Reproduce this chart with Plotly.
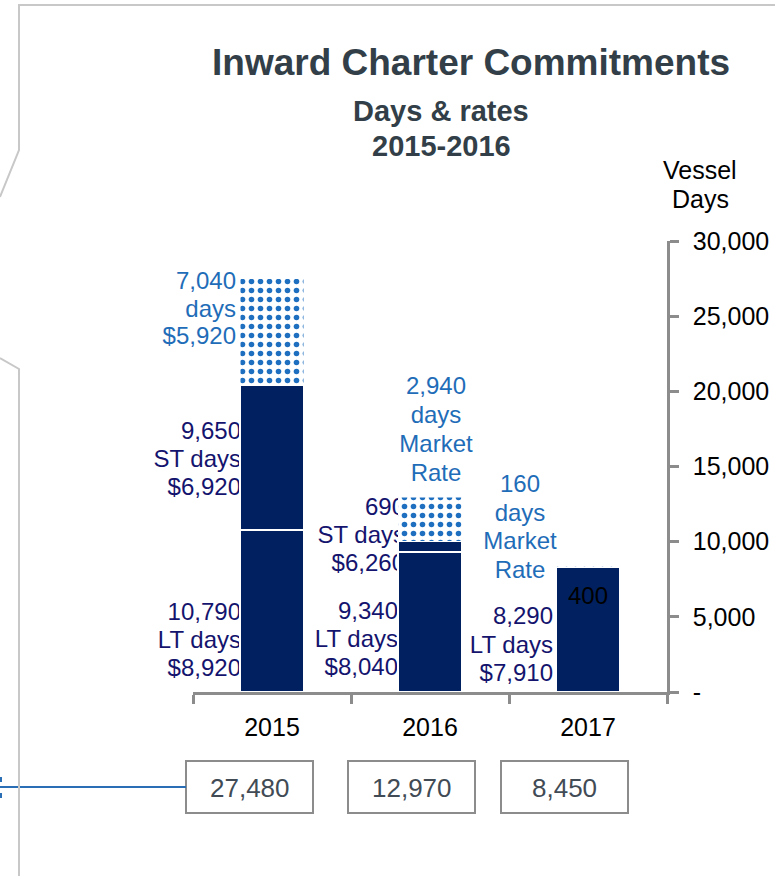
import plotly.graph_objects as go

# ---------------- data ----------------
years = ["2015", "2016", "2017"]
lt_days = [10790, 9340, 8290]
st_days = [9650, 690, 0]
market_days = [7040, 2940, 160]
lt_rates = ["$8,920", "$8,040", "$7,910"]
st_rates = ["$6,920", "$6,260", ""]
market_rates = ["$5,920", "Market Rate", "Market Rate"]
extra_label = "400"
y_tickvals = [0, 5000, 10000, 15000, 20000, 25000, 30000]
y_ticktext = ["-", "5,000", "10,000", "15,000", "20,000", "25,000", "30,000"]
title = "Inward Charter Commitments"
subtitle = ["Days & rates", "2015-2016"]
axis_title = ["Vessel", "Days"]

# ---------------- geometry / style ----------------
W, H = 775, 876
L, R, T, B = 193, 108, 241, 184
PW, PH = W - L - R, H - T - B
YMAX = 30000
FONT = "Liberation Sans, Arial, sans-serif"
NAVY = "#002060"
BLUE = "#1F6FC0"
DARK_TXT = "#14146E"
BLUE_TXT = "#1F6DB8"
GRAY = "#8C8C8C"
TXT_DY = 2


def val_from_px(py):
    return (H - B - py) / PH * YMAX


def cat_from_px(px):
    return (px - L) / PW * 3 - 0.5


def px_x(px):
    return (px - L) / PW


def px_y(py):
    return (H - B - py) / PH


fig = go.Figure()

# ---------------- label blocks (drawn under the bars) ----------------
def lines_for(i, kind):
    if kind == "lt":
        return [f"{lt_days[i]:,}", "LT days", lt_rates[i]]
    if kind == "st":
        return [f"{st_days[i]:,}", "ST days", st_rates[i]]
    return [f"{market_days[i]:,}", "days"] + market_rates[i].split(" ")


# (category, kind, x pixel, textposition, first line y pixel, spacing, color)
blocks = [
    (0, "mkt", 236, "middle left", 281, 27.5, BLUE_TXT),
    (0, "st", 241, "middle left", 431, 28, DARK_TXT),
    (0, "lt", 241, "middle left", 612, 28, DARK_TXT),
    (1, "mkt", 436, "middle center", 386, 29, BLUE_TXT),
    (1, "st", 405, "middle left", 507, 28, DARK_TXT),
    (1, "lt", 398, "middle left", 611, 28, DARK_TXT),
    (2, "mkt", 520, "middle center", 484, 28.7, BLUE_TXT),
    (2, "lt", 553, "middle left", 616, 28.5, DARK_TXT),
]

groups = {}
for cat, kind, xpx, pos, y0, sp, col in blocks:
    for k, line in enumerate(lines_for(cat, kind)):
        g = groups.setdefault((pos, col), {"x": [], "y": [], "t": []})
        g["x"].append(cat_from_px(xpx))
        g["y"].append(val_from_px(y0 + k * sp + TXT_DY))
        g["t"].append(line)

for (pos, col), g in groups.items():
    fig.add_trace(go.Scatter(
        x=g["x"], y=g["y"], text=g["t"], mode="text", textposition=pos,
        textfont=dict(family=FONT, size=24, color=col), cliponaxis=False,
        hoverinfo="skip", showlegend=False, xaxis="x", yaxis="y"))

# ---------------- bars (overlay subplot, drawn on top) ----------------
bar_common = dict(xaxis="x2", yaxis="y2", width=0.4, showlegend=False)
fig.add_trace(go.Bar(x=years, y=lt_days, name="LT", marker_color=NAVY,
                     marker_line=dict(color="white", width=2), **bar_common))
fig.add_trace(go.Bar(x=years, y=st_days, name="ST", marker_color=NAVY,
                     marker_line=dict(color="white", width=2), **bar_common))
fig.add_trace(go.Bar(
    x=years, y=market_days, name="Market",
    marker=dict(color=BLUE, line=dict(color="white", width=0.5),
                pattern=dict(shape=".", fgcolor=BLUE, bgcolor="white",
                             size=9, solidity=0.3, fillmode="replace")),
    **bar_common))

# ---------------- annotations ----------------
ann = []


def add_text(text, xpx, ypx, size, color, bold=False):
    ann.append(dict(text=f"<b>{text}</b>" if bold else text,
                    x=px_x(xpx), y=px_y(ypx), xref="paper", yref="paper",
                    xanchor="center", yanchor="middle", showarrow=False,
                    font=dict(family=FONT, size=size, color=color)))


add_text(title, 471, 63, 37, "#333F48", bold=True)
add_text(subtitle[0], 441, 111, 29, "#333F48", bold=True)
add_text(subtitle[1], 441, 146, 29, "#333F48", bold=True)
for k, t in enumerate(axis_title):
    add_text(t, 700, 170 + 29 * k, 25, "#000000")

# stray data label inside the 2017 bar (on top of the bar)
add_text(extra_label, 588, 593 + TXT_DY, 24, "#000000")

shapes = []
totals = [a + b + c for a, b, c in zip(lt_days, st_days, market_days)]
box_centers = [249.5, 411.5, 564.5]
for c, tot in zip(box_centers, totals):
    shapes.append(dict(type="rect", xref="paper", yref="paper",
                       x0=px_x(c - 63.5), x1=px_x(c + 63.5), y0=px_y(761), y1=px_y(813),
                       line=dict(color=GRAY, width=2), fillcolor="rgba(0,0,0,0)"))
    add_text(f"{tot:,}", c, 788, 26, "#414B55")

# connector line and slide frame
shapes.append(dict(type="line", xref="paper", yref="paper", x0=px_x(0), x1=px_x(186),
                   y0=px_y(787), y1=px_y(787), line=dict(color="#2A6FB5", width=2)))
for ya, yb in [(777, 782), (793, 798)]:
    shapes.append(dict(type="line", xref="paper", yref="paper", x0=px_x(1), x1=px_x(1),
                       y0=px_y(ya), y1=px_y(yb), line=dict(color="#2A6FB5", width=2)))


def path(points):
    return "M " + " L ".join(f"{px_x(a)},{px_y(b)}" for a, b in points)


shapes.append(dict(type="path", xref="paper", yref="paper",
                   path=path([(776, 5), (19, 5), (19, 150), (0, 197)]),
                   line=dict(color="#C8C8C8", width=2)))
shapes.append(dict(type="path", xref="paper", yref="paper",
                   path=path([(0, 358), (19, 369), (19, 880)]),
                   line=dict(color="#C8C8C8", width=2)))

fig.update_layout(
    width=W, height=H, margin=dict(l=L, r=R, t=T, b=B, autoexpand=False),
    paper_bgcolor="white", plot_bgcolor="rgba(0,0,0,0)",
    barmode="stack", bargap=0.6,
    font=dict(family=FONT, color="#000000"),
    xaxis=dict(visible=False, range=[-0.5, 2.5], fixedrange=True),
    yaxis=dict(visible=False, range=[0, YMAX], fixedrange=True),
    xaxis2=dict(overlaying="x", anchor="y2", type="category", categoryarray=years,
                categoryorder="array", range=[-0.5, 2.5], tickson="boundaries",
                ticks="outside", ticklen=9, tickwidth=2.5, tickcolor=GRAY,
                showline=True, linecolor=GRAY, linewidth=2.5, showgrid=False,
                tickfont=dict(family=FONT, size=25, color="#000000"),
                ticklabelstandoff=11),
    yaxis2=dict(overlaying="y", anchor="x2", side="right", range=[0, YMAX],
                tickvals=y_tickvals, ticktext=y_ticktext, ticks="outside",
                ticklen=9, tickwidth=2.5, tickcolor=GRAY, showline=True,
                linecolor=GRAY, linewidth=2.5, showgrid=False, zeroline=False,
                tickfont=dict(family=FONT, size=25, color="#000000"),
                ticklabelstandoff=9),
    annotations=ann, shapes=shapes,
)

fig.write_html("out.html", config={"displayModeBar": False},
               post_script="document.body.style.margin='0px';")
